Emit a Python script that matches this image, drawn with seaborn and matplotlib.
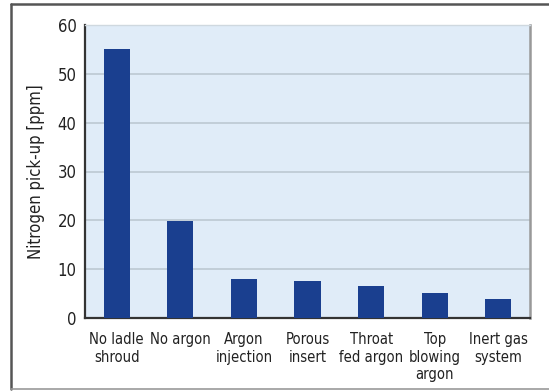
import matplotlib
matplotlib.use("Agg")
import matplotlib.pyplot as plt
from matplotlib.lines import Line2D
import seaborn as sns
import pandas as pd

categories = ["No ladle\nshroud", "No argon", "Argon\ninjection", "Porous\ninsert",
              "Throat\nfed argon", "Top\nblowing\nargon", "Inert gas\nsystem"]
nitrogen_ppm = [55.0, 19.8, 7.9, 7.5, 6.6, 5.2, 3.8]
y_ticks = [0, 10, 20, 30, 40, 50, 60]

sns.set_theme(style="white")
plt.rcParams["font.family"] = ["DejaVu Sans"]
plt.rcParams["font.stretch"] = "condensed"

df = pd.DataFrame({"method": categories, "ppm": nitrogen_ppm})

fig = plt.figure(figsize=(5.49, 3.91), dpi=100)
fig.patch.set_facecolor("white")
ax = fig.add_axes([85 / 549, 73 / 391, 445 / 549, 293 / 391])
ax.set_facecolor("#e0ecf8")

sns.barplot(data=df, x="method", y="ppm", color="#1a3f8f", saturation=1,
            width=0.41, linewidth=0, ax=ax, zorder=3)

ax.set_ylim(0, 60)
ax.set_xlim(-0.5, len(categories) - 0.5)
ax.set_yticks(y_ticks)
ax.set_yticklabels([str(t) for t in y_ticks], fontsize=12, color="#222222")
ax.yaxis.grid(True, color="#b9c5cf", linewidth=1.1, zorder=1)
ax.set_axisbelow(True)

# tick marks sit at category boundaries
ax.set_xticks(range(len(categories)))
ax.set_xticklabels(categories, fontsize=10.6, color="#222222", linespacing=1.22)
ax.tick_params(axis="x", length=0, pad=10)
ax.set_xticks([i - 0.5 for i in range(len(categories) + 1)], minor=True)
ax.tick_params(axis="x", which="minor", length=4, color="#cccccc", width=1)
ax.tick_params(axis="y", length=4, color="#cccccc", pad=2)

ax.set_xlabel("")
ax.set_ylabel("Nitrogen pick-up [ppm]", fontsize=12, color="#222222", labelpad=9)

for side in ["left", "bottom"]:
    ax.spines[side].set_color("#333333")
    ax.spines[side].set_linewidth(1.6)
ax.spines["right"].set_color("#999999")
ax.spines["right"].set_linewidth(1.8)
ax.spines["top"].set_color("#cfd8df")
ax.spines["top"].set_linewidth(1.0)

# outer frame around the chart
W, H = 549, 391
fig.add_artist(Line2D([11 / W, 11 / W], [1 - 4 / H, 1 - 389 / H], transform=fig.transFigure,
                      color="#555555", linewidth=1.8))
fig.add_artist(Line2D([11 / W, 1.0], [1 - 4 / H, 1 - 4 / H], transform=fig.transFigure,
                      color="#555555", linewidth=1.8))
fig.add_artist(Line2D([11 / W, 1.0], [1 - 389 / H, 1 - 389 / H], transform=fig.transFigure,
                      color="#999999", linewidth=1.2))

fig.savefig("out.png", dpi=100)
